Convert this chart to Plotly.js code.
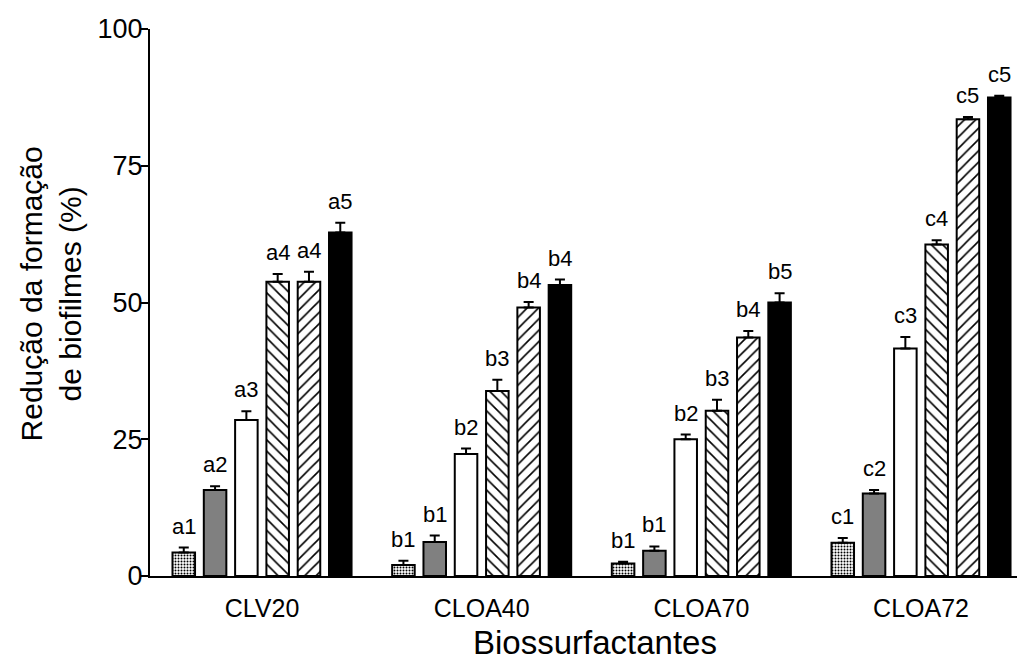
<!DOCTYPE html>
<html>
<head>
<meta charset="utf-8">
<script src="https://cdn.plot.ly/plotly-3.0.1.min.js"></script>
<style>
  html, body { margin: 0; padding: 0; background: #ffffff; }
  #chart { width: 1017px; height: 662px; }
</style>
</head>
<body>
<div id="chart"></div>
<script>
// Biosurfactant groups on the x axis
const categories = ['CLV20', 'CLOA40', 'CLOA70', 'CLOA72'];

// Biofilm reduction (%) for each of the six treatments, one value per biosurfactant
const treat1 = [4.3, 2.0, 2.3, 6.1];
const treat2 = [15.7, 6.2, 4.6, 15.1];
const treat3 = [28.5, 22.3, 25.0, 41.6];
const treat4 = [53.8, 33.8, 30.2, 60.6];
const treat5 = [53.8, 49.1, 43.6, 83.5];
const treat6 = [62.8, 53.2, 50.0, 87.5];

// Standard deviations (upper error bars)
const err1 = [0.9, 0.8, 0.3, 0.85];
const err2 = [0.7, 1.2, 0.8, 0.6];
const err3 = [1.6, 1.0, 0.85, 2.1];
const err4 = [1.4, 2.1, 2.0, 0.8];
const err5 = [1.8, 1.0, 1.2, 0.4];
const err6 = [1.8, 1.0, 1.7, 0.3];

// Statistical grouping letters above each bar
const letters1 = ['a1', 'b1', 'b1', 'c1'];
const letters2 = ['a2', 'b1', 'b1', 'c2'];
const letters3 = ['a3', 'b2', 'b2', 'c3'];
const letters4 = ['a4', 'b3', 'b3', 'c4'];
const letters5 = ['a4', 'b4', 'b4', 'c5'];
const letters6 = ['a5', 'b4', 'b5', 'c5'];

const yTicks = [0, 25, 50, 75, 100];

const FONT = 'Liberation Sans, Arial, sans-serif';
const BARGAP = 0.145;
const BARGROUPGAP = 0.28;

const series = [
  { y: treat1, err: err1, letters: letters1,
    marker: { color: '#ffffff', pattern: { shape: '.', fgcolor: '#000000', bgcolor: '#ffffff', size: 3, solidity: 0.35 } } },
  { y: treat2, err: err2, letters: letters2,
    marker: { color: '#808080' } },
  { y: treat3, err: err3, letters: letters3,
    marker: { color: '#ffffff' } },
  { y: treat4, err: err4, letters: letters4,
    marker: { color: '#ffffff', pattern: { shape: '\\', fgcolor: '#000000', bgcolor: '#ffffff', size: 8, solidity: 0.2 } } },
  { y: treat5, err: err5, letters: letters5,
    marker: { color: '#ffffff', pattern: { shape: '/', fgcolor: '#000000', bgcolor: '#ffffff', size: 8, solidity: 0.2 } } },
  { y: treat6, err: err6, letters: letters6,
    marker: { color: '#000000' } }
];

const xIdx = categories.map((_, i) => i);

const traces = series.map((s, k) => ({
  type: 'bar',
  name: 'Tratamento ' + (k + 1),
  x: xIdx,
  y: s.y,
  marker: Object.assign({ line: { color: '#000000', width: 2 } }, s.marker),
  error_y: {
    type: 'data', array: s.err, arrayminus: s.err.map(() => 0), symmetric: false,
    color: '#000000', thickness: 2, width: 5
  },
  showlegend: false,
  hoverinfo: 'skip'
}));

// Letter labels: placed above each error bar, at the centre of the bar's slot in the group
const nSeries = series.length;
const slot = (1 - BARGAP) / nSeries;
const annotations = [];
series.forEach((s, k) => {
  s.y.forEach((v, i) => {
    annotations.push({
      x: i + (k - (nSeries - 1) / 2) * slot,
      y: v + s.err[i],
      xref: 'x', yref: 'y',
      text: s.letters[i],
      showarrow: false,
      yanchor: 'bottom',
      yshift: 7,
      font: { family: FONT, size: 22, color: '#000000' }
    });
  });
});

// x-axis title
annotations.push({
  x: 0.513, y: 0, xref: 'paper', yref: 'paper',
  yanchor: 'top', yshift: -46,
  text: 'Biossurfactantes', showarrow: false,
  font: { family: FONT, size: 33, color: '#000000' }
});

// y-axis title (two lines, rotated)
annotations.push({
  x: -0.114, y: 0.515, xref: 'paper', yref: 'paper',
  xanchor: 'center', yanchor: 'middle',
  textangle: -90,
  text: 'Redução da formação<br>de biofilmes (%)', showarrow: false,
  font: { family: FONT, size: 30, color: '#000000' }
});

const layout = {
  width: 1017,
  height: 662,
  margin: { l: 150, r: 0, t: 29, b: 86 },
  paper_bgcolor: '#ffffff',
  plot_bgcolor: '#ffffff',
  barmode: 'group',
  bargap: BARGAP,
  bargroupgap: BARGROUPGAP,
  font: { family: FONT, color: '#000000' },
  xaxis: {
    range: [-0.51, 3.437],
    tickvals: xIdx,
    ticktext: categories,
    ticks: '',
    ticklabelstandoff: 9,
    tickfont: { family: FONT, size: 25, color: '#000000' },
    showline: true, linecolor: '#000000', linewidth: 2,
    showgrid: false, zeroline: false
  },
  yaxis: {
    range: [0, 100],
    tickvals: yTicks,
    ticktext: yTicks.map(String),
    ticks: 'outside', ticklen: 7, tickwidth: 2, tickcolor: '#000000',
    ticklabelstandoff: -7,
    tickfont: { family: FONT, size: 27, color: '#000000' },
    showline: true, linecolor: '#000000', linewidth: 2,
    showgrid: false, zeroline: false
  },
  annotations: annotations
};

Plotly.newPlot('chart', traces, layout, { displayModeBar: false, staticPlot: true });
</script>
</body>
</html>
